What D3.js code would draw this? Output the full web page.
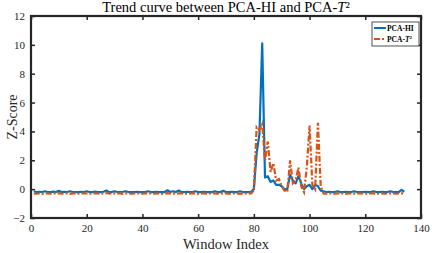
<!DOCTYPE html>
<html>
<head>
<meta charset="utf-8">
<script src="https://cdn.jsdelivr.net/npm/d3@7"></script>
<style>
  body { margin: 0; background: #fff; }
  text { font-family: "Liberation Serif", "Times New Roman", serif; }
</style>
</head>
<body>
<svg id="viz"></svg>
<script>
// window index 1..134
var blueBase = [-0.15,-0.2,-0.18,-0.2,-0.15,-0.2,-0.2,-0.17,-0.2,-0.12,
                -0.2,-0.18,-0.2,-0.15,-0.2,-0.2,-0.2,-0.18,-0.2,-0.15,
                -0.2,-0.2,-0.17,-0.2,-0.2,-0.18,-0.1,-0.2,-0.2,-0.15,
                -0.2,-0.2,-0.18,-0.15,-0.2,-0.2,-0.2,-0.18,-0.2,-0.2,
                -0.2,-0.15,-0.2,-0.2,-0.18,-0.2,-0.2,-0.2,-0.08,-0.2,
                -0.15,-0.2,-0.1,-0.2,-0.2,-0.18,-0.2,-0.2,-0.15,-0.2,
                -0.2,-0.18,-0.2,-0.2,-0.2,-0.15,-0.2,-0.2,-0.12,-0.2,
                -0.2,-0.18,-0.2,-0.2,-0.15,-0.2,-0.2,-0.2,-0.18];
var bluePeak = [0.0, 2.5, 3.8, 10.1, 0.8, 0.9, 0.5, 0.6, 0.3, 0.3,
                0.2, 0.0, 0.0, 1.0, 0.6, 0.4, 0.9, 0.4, 0.0, 0.2,
                0.3, 0.0, 0.3, 0.2, -0.1];
var blueTail = [-0.15,-0.2,-0.18,-0.2,-0.2,-0.15,-0.2,-0.2,-0.18,-0.2,
                -0.2,-0.15,-0.2,-0.2,-0.2,-0.18,-0.2,-0.2,-0.15,-0.2,
                -0.2,-0.18,-0.2,-0.2,-0.15,-0.2,-0.2,-0.2,-0.05,-0.18];

var orangeBase = [-0.3,-0.32,-0.3,-0.33,-0.3,-0.3,-0.32,-0.3,-0.3,-0.28,
                  -0.32,-0.3,-0.3,-0.33,-0.3,-0.3,-0.32,-0.3,-0.3,-0.3,
                  -0.32,-0.3,-0.3,-0.3,-0.33,-0.3,-0.28,-0.3,-0.32,-0.3,
                  -0.3,-0.3,-0.33,-0.3,-0.3,-0.32,-0.3,-0.3,-0.3,-0.32,
                  -0.3,-0.3,-0.3,-0.32,-0.3,-0.3,-0.33,-0.3,-0.28,-0.3,
                  -0.3,-0.32,-0.3,-0.3,-0.3,-0.32,-0.3,-0.3,-0.3,-0.33,
                  -0.3,-0.3,-0.32,-0.3,-0.3,-0.3,-0.32,-0.3,-0.3,-0.3,
                  -0.32,-0.3,-0.3,-0.3,-0.33,-0.3,-0.3,-0.32,-0.3];
var orangePeak = [-0.1, 4.3, 4.1, 4.5, 2.0, 3.3, 1.2, 1.8, 0.6, 0.7,
                  0.2, -0.1, -0.2, 2.0, 0.4, 0.6, 1.5, 0.2, -0.2, 1.5,
                  4.4, 0.3, 0.0, 4.6, 0.2];
var orangeTail = [-0.3,-0.32,-0.3,-0.3,-0.32,-0.3,-0.3,-0.3,-0.33,-0.3,
                  -0.3,-0.32,-0.3,-0.3,-0.3,-0.32,-0.3,-0.3,-0.3,-0.33,
                  -0.3,-0.3,-0.32,-0.3,-0.3,-0.3,-0.32,-0.3,-0.3,-0.3];

var pcaHI = blueBase.concat(bluePeak, blueTail);
var pcaT2 = orangeBase.concat(orangePeak, orangeTail);

var xTicks = [0, 20, 40, 60, 80, 100, 120, 140];
var yTicks = [-2, 0, 2, 4, 6, 8, 10, 12];

var width = 432, height = 253;
var margin = {top: 16, right: 11, bottom: 35, left: 31};
var drawWidth = width - margin.left - margin.right;
var drawHeight = height - margin.top - margin.bottom;

var svg = d3.select('#viz').attr('width', width).attr('height', height);
var g = svg.append('g').attr('transform', `translate(${margin.left}, ${margin.top})`);

var xScale = d3.scaleLinear().domain([0, 140]).range([0, drawWidth]);
var yScale = d3.scaleLinear().domain([-2, 12]).range([drawHeight, 0]);

// axes with inward ticks
var xAxis = d3.axisBottom(xScale).tickValues(xTicks).tickSizeInner(-4).tickSizeOuter(0).tickPadding(6);
var yAxis = d3.axisLeft(yScale).tickValues(yTicks).tickSizeInner(-4).tickSizeOuter(0).tickPadding(6);
var xTop = d3.axisTop(xScale).tickValues(xTicks).tickSizeInner(-4).tickSizeOuter(0).tickFormat('');
var yRight = d3.axisRight(yScale).tickValues(yTicks).tickSizeInner(-4).tickSizeOuter(0).tickFormat('');

function styleAxis(sel) {
  sel.select('.domain').remove();
  sel.selectAll('line').attr('stroke', '#262626').attr('stroke-width', 1.5);
  sel.selectAll('text').attr('fill', '#262626').style('font-size', '11px')
     .style('font-family', '"Liberation Serif", serif');
}

g.append('g').attr('transform', `translate(0, ${drawHeight})`).call(xAxis).call(styleAxis);
g.append('g').call(yAxis).call(styleAxis);
g.append('g').call(xTop).call(styleAxis);
g.append('g').attr('transform', `translate(${drawWidth}, 0)`).call(yRight).call(styleAxis);

var line = d3.line().x((d, i) => xScale(i + 1)).y(d => yScale(d));

g.append('path').datum(pcaHI)
  .attr('fill', 'none').attr('stroke', '#0072BD').attr('stroke-width', 2.2)
  .attr('stroke-linejoin', 'round').attr('d', line);

g.append('path').datum(pcaT2)
  .attr('fill', 'none').attr('stroke', '#D95319').attr('stroke-width', 2.2)
  .attr('stroke-dasharray', '6,2,2,2').attr('d', line);

// box
g.append('rect').attr('width', drawWidth).attr('height', drawHeight)
  .attr('fill', 'none').attr('stroke', '#262626').attr('stroke-width', 2.2);

// title
var title = svg.append('text').attr('x', margin.left + drawWidth / 2).attr('y', 12)
  .attr('text-anchor', 'middle').style('font-size', '14.5px').attr('fill', '#000');
title.append('tspan').text('Trend curve between PCA-HI and PCA-');
title.append('tspan').style('font-style', 'italic').text('T');
title.append('tspan').text('²');

svg.append('text').attr('x', margin.left + drawWidth / 2).attr('y', 249)
  .attr('text-anchor', 'middle').style('font-size', '14.5px').attr('fill', '#262626')
  .text('Window Index');

svg.append('text').attr('transform', `translate(17, ${margin.top + drawHeight / 2}) rotate(-90)`)
  .attr('text-anchor', 'middle').style('font-size', '14px').attr('fill', '#262626')
  .text('Z-Score');

// legend
var leg = svg.append('g').attr('transform', 'translate(372, 22)');
leg.append('rect').attr('width', 47).attr('height', 24)
  .attr('fill', '#fff').attr('stroke', '#262626').attr('stroke-width', 0.8);
leg.append('line').attr('x1', 2).attr('x2', 14).attr('y1', 6).attr('y2', 6)
  .attr('stroke', '#0072BD').attr('stroke-width', 2);
leg.append('line').attr('x1', 2).attr('x2', 14).attr('y1', 17).attr('y2', 17)
  .attr('stroke', '#D95319').attr('stroke-width', 2).attr('stroke-dasharray', '6,2,2,2');
leg.append('text').attr('x', 15).attr('y', 8.5).style('font-size', '7.5px')
  .style('font-weight', 'bold').attr('fill', '#000').text('PCA-HI');
var lt = leg.append('text').attr('x', 15).attr('y', 20).style('font-size', '7.5px')
  .style('font-weight', 'bold').attr('fill', '#000');
lt.append('tspan').text('PCA-');
lt.append('tspan').style('font-style', 'italic').text('T');
lt.append('tspan').attr('dy', -3).style('font-size', '5px').text('2');
</script>
</body>
</html>
